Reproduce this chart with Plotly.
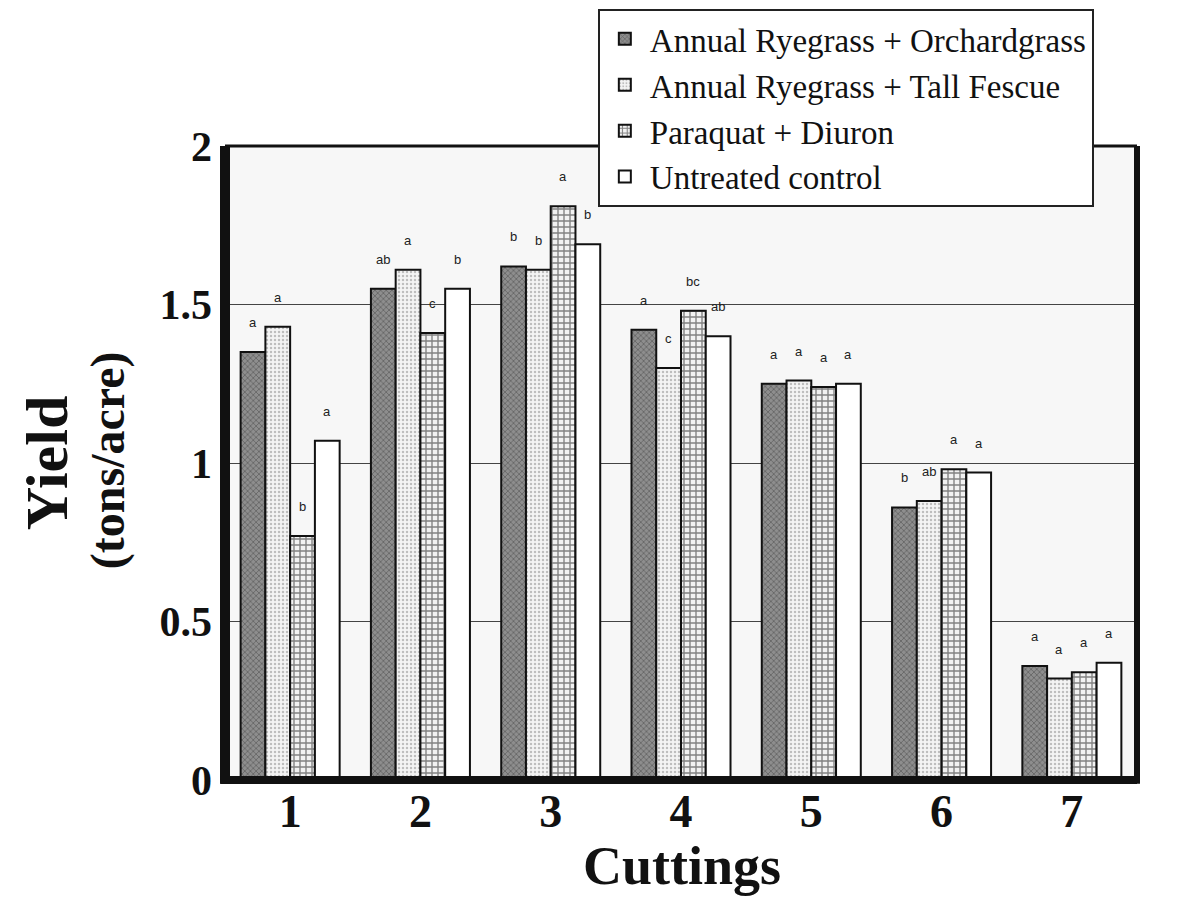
import plotly.graph_objects as go

cuttings = [1, 2, 3, 4, 5, 6, 7]
cutting_labels = ["1", "2", "3", "4", "5", "6", "7"]

series_names = [
    "Annual Ryegrass + Orchardgrass",
    "Annual Ryegrass + Tall Fescue",
    "Paraquat + Diuron",
    "Untreated control",
]

ryegrass_orchard = [1.35, 1.55, 1.62, 1.42, 1.25, 0.86, 0.36]
ryegrass_fescue = [1.43, 1.61, 1.61, 1.30, 1.26, 0.88, 0.32]
paraquat_diuron = [0.77, 1.41, 1.81, 1.48, 1.24, 0.98, 0.34]
untreated = [1.07, 1.55, 1.69, 1.40, 1.25, 0.97, 0.37]

letters_orchard = ["a", "ab", "b", "a", "a", "b", "a"]
letters_fescue = ["a", "a", "b", "c", "a", "ab", "a"]
letters_paraquat = ["b", "c", "a", "bc", "a", "a", "a"]
letters_untreated = ["a", "b", "b", "ab", "a", "a", "a"]

y_ticks = [0, 0.5, 1, 1.5, 2]
y_tick_labels = ["0", "0.5", "1", "1.5", "2"]

values = [ryegrass_orchard, ryegrass_fescue, paraquat_diuron, untreated]
letters = [letters_orchard, letters_fescue, letters_paraquat, letters_untreated]

styles = [
    dict(color="#808080", pattern=dict(shape="x", fgcolor="#333333", bgcolor="#8e8e8e", size=4, solidity=0.35)),
    dict(color="#f2f2f2", pattern=dict(shape=".", fgcolor="#888888", bgcolor="#f4f4f4", size=4, solidity=0.3)),
    dict(color="#e8e8e8", pattern=dict(shape="+", fgcolor="#111111", bgcolor="#f2f2f2", size=6, solidity=0.4)),
    dict(color="#ffffff"),
]

SERIF = "Liberation Serif, Times New Roman, serif"
BARGAP = 0.24

fig = go.Figure()
for name, vals, st in zip(series_names, values, styles):
    marker = dict(color=st["color"], line=dict(color="#111111", width=2))
    if "pattern" in st:
        marker["pattern"] = st["pattern"]
    fig.add_trace(go.Bar(x=cuttings, y=vals, name=name, marker=marker))

# significance letters above each bar
n = len(series_names)
bw = (1 - BARGAP) / n
annotations = []
for i, (vals, lets) in enumerate(zip(values, letters)):
    for c, v, t in zip(cuttings, vals, lets):
        annotations.append(dict(
            x=c + (i - (n - 1) / 2) * bw, y=v, xref="x", yref="y",
            text=t, showarrow=False, yanchor="bottom", yshift=20,
            font=dict(family="Liberation Sans, Arial, sans-serif", size=13, color="#222222"),
        ))

annotations += [
    dict(x=-0.195, y=0.5, xref="paper", yref="paper", text="Yield", textangle=-90,
         showarrow=False, xanchor="center", yanchor="middle",
         font=dict(family=SERIF, size=60, color="#111111", weight="bold")),
    dict(x=-0.129, y=0.505, xref="paper", yref="paper", text="(tons/acre)", textangle=-90,
         showarrow=False, xanchor="center", yanchor="middle",
         font=dict(family=SERIF, size=48, color="#111111", weight="bold")),
    dict(x=0.501, y=-0.136, xref="paper", yref="paper", text="Cuttings",
         showarrow=False, xanchor="center", yanchor="middle",
         font=dict(family=SERIF, size=54, color="#111111", weight="bold")),
]

shapes = [
    dict(type="line", xref="paper", yref="paper", x0=0, x1=0, y0=-0.006, y1=1.0,
         line=dict(color="#111111", width=10), layer="above"),
    dict(type="line", xref="paper", yref="paper", x0=-0.005, x1=1.0, y0=0, y1=0,
         line=dict(color="#111111", width=8), layer="above"),
    dict(type="line", xref="paper", yref="paper", x0=1.0, x1=1.0, y0=-0.006, y1=1.0,
         line=dict(color="#111111", width=6), layer="above"),
    dict(type="line", xref="paper", yref="paper", x0=0, x1=1.0, y0=1.0, y1=1.0,
         line=dict(color="#111111", width=3), layer="above"),
]

fig.update_layout(
    width=1194, height=901,
    margin=dict(l=217, r=65, t=138, b=129, autoexpand=False),
    paper_bgcolor="#ffffff",
    plot_bgcolor="#f7f7f7",
    barmode="group",
    bargap=BARGAP,
    bargroupgap=0,
    showlegend=True,
    legend=dict(
        xref="container", yref="container",
        x=0.494, y=0.999, xanchor="left", yanchor="top",
        bgcolor="#ffffff", bordercolor="#222222", borderwidth=2,
        font=dict(family=SERIF, size=33, color="#111111"),
        tracegroupgap=0, itemwidth=40,
    ),
    annotations=annotations,
    shapes=shapes,
    xaxis=dict(
        range=[0.5, 7.5], tickmode="array", tickvals=cuttings, ticktext=cutting_labels,
        showgrid=False, zeroline=False, showline=False, ticks="",
        tickfont=dict(family=SERIF, size=46, color="#111111", weight="bold"),
        ticklabelstandoff=0,
    ),
    yaxis=dict(
        range=[0, 2.0], tickmode="array", tickvals=y_ticks, ticktext=y_tick_labels,
        showgrid=True, gridcolor="#444444", gridwidth=1.2,
        zeroline=False, showline=False, ticks="",
        tickfont=dict(family=SERIF, size=42, color="#111111", weight="bold"),
        ticklabelstandoff=12,
    ),
)

fig.write_html("out.html")
